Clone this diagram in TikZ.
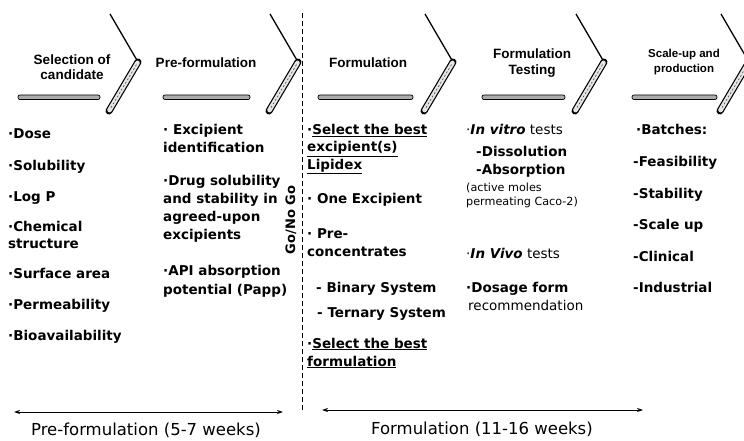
\documentclass[tikz,border=0pt]{standalone}
\usepackage{fontspec}
\setmainfont{DejaVu Sans}
\newfontfamily\headfont{Liberation Sans}
\usetikzlibrary{arrows.meta}
\begin{document}
\begin{tikzpicture}[x=1pt,y=-1pt,
  body/.style={anchor=base west, inner sep=0pt, font=\fontsize{13.5}{16}\selectfont\bfseries},
  bodyr/.style={anchor=base west, inner sep=0pt, font=\fontsize{13.5}{16}\selectfont},
  small/.style={anchor=base west, inner sep=0pt, font=\fontsize{11.2}{13}\selectfont},
  head/.style={align=center, inner sep=0pt, font=\headfont\fontsize{13.5}{15.5}\selectfont\bfseries},
  heads/.style={align=center, inner sep=0pt, font=\headfont\fontsize{11.5}{15.5}\selectfont\bfseries},
  foot/.style={anchor=base, inner sep=0pt, font=\fontsize{16.5}{18}\selectfont},
  bar/.style={draw=black, line width=0.7pt, fill=gray!65, rounded corners=2pt},
  chevline/.style={line width=1.3pt},
  span/.style={{Stealth[length=6pt,width=4pt]}-{Stealth[length=6pt,width=4pt]}, line width=0.9pt}
]
\useasboundingbox (0,0) rectangle (744,441);
\fill[white] (0,0) rectangle (744,441);

% chevrons
\newcommand\chevron[1]{%
  \coordinate (t) at (#1-28,14);
  \coordinate (v) at (#1,62);
  \coordinate (b) at (#1-29,111);
  \draw[chevline] (t) -- (v);
  \draw[line width=7pt, line cap=round] (v) -- (b);
  \draw[line width=4.6pt, gray!20, line cap=round, shorten <=1pt, shorten >=1pt] (v) -- (b);
  \draw[line width=0.6pt, gray!60!black, dash pattern=on 2pt off 2pt, shorten <=3pt, shorten >=3pt] (v) -- (b);
}
\chevron{138}
\chevron{298}
\chevron{453}
\chevron{604}
\chevron{749}

% bars
\draw[bar] (18,95) rectangle (100,99.5);
\draw[bar] (163,95) rectangle (250,99.5);
\draw[bar] (318,95) rectangle (413,99.5);
\draw[bar] (482,95) rectangle (565,99.5);
\draw[bar] (632,95) rectangle (717,99.5);

% headings
\node[head] (h1) at (72,67) {Selection of\\candidate};
\node[head] (h2) at (206,63) {Pre-formulation};
\node[head] (h3) at (368,63) {Formulation};
\node[head] (h4) at (532,63) {Formulation\\Testing};
\node[heads] (h5) at (684,62) {Scale-up and\\production};

% Go / No Go
\coordinate (dtop) at (302,13);
\coordinate (dbot) at (302,412);
\draw[line width=0.8pt, dash pattern=on 5pt off 3pt] (dtop) -- (dbot);
\node[rotate=90, inner sep=0pt, font=\fontsize{13}{15}\selectfont\bfseries] (gng) at (291,220) {Go/No Go};

% column 1
\node[body] (a1) at (8,139) {·Dose};
\node[body] (a2) at (8,170) {·Solubility};
\node[body] (a3) at (8,201) {·Log P};
\node[body] (a4) at (8,231) {·Chemical};
\node[body] (a5) at (8,248) {structure};
\node[body] (a6) at (8,278) {·Surface area};
\node[body] (a7) at (8,309) {·Permeability};
\node[body] (a8) at (8,340) {·Bioavailability};

% column 2
\node[body] (b1) at (163,135) {· Excipient};
\node[body] (b2) at (163,153) {identification};
\node[body] (b3) at (163,185) {·Drug solubility};
\node[body] (b4) at (163,203) {and stability in};
\node[body] (b5) at (163,221) {agreed-upon};
\node[body] (b6) at (163,239) {excipients};
\node[body] (b7) at (163,275) {·API absorption};
\node[body] (b8) at (163,294) {potential (Papp)};

% column 3
\node[body] (c1) at (307,135) {·\underline{Select the best}};
\node[body] (c2) at (307,152) {\underline{excipient(s)}};
\node[body] (c3) at (307,169) {\underline{Lipidex}};
\node[body] (c4) at (307,203) {· One Excipient};
\node[body] (c5) at (307,238) {· Pre-};
\node[body] (c6) at (307,256) {concentrates};
\node[body] (c7) at (316,292) {- Binary System};
\node[body] (c8) at (317,317) {- Ternary System};
\node[body] (c9) at (307,348) {·\underline{Select the best}};
\node[body] (c10) at (307,366) {\underline{formulation}};

% column 4
\node[bodyr] (d1) at (466,135) {·\textbf{\itshape In vitro} tests};
\node[body] (d2) at (476,157) {-Dissolution};
\node[body] (d3) at (476,175) {-Absorption};
\node[small] (d4) at (466,191) {(active moles};
\node[small] (d5) at (466,205) {permeating Caco-2)};
\node[bodyr] (d6) at (466,258) {·\textbf{\itshape In Vivo} tests};
\node[body] (d7) at (466,292) {·Dosage form};
\node[bodyr] (d8) at (468,310) {recommendation};

% column 5
\node[body] (e1) at (636,135) {·Batches:};
\node[body] (e2) at (633,166) {-Feasibility};
\node[body] (e3) at (633,198) {-Stability};
\node[body] (e4) at (633,229) {-Scale up};
\node[body] (e5) at (633,261) {-Clinical};
\node[body] (e6) at (633,292) {-Industrial};

% time spans
\coordinate (l1) at (14,412);
\coordinate (l2) at (283,412);
\coordinate (r1) at (322,410);
\coordinate (r2) at (643,410);
\draw[span] (l1) -- (l2);
\draw[span] (r1) -- (r2);
\node[foot] (f1) at (146,435) {Pre-formulation (5-7 weeks)};
\node[foot] (f2) at (482,434) {Formulation (11-16 weeks)};
\end{tikzpicture}
\end{document}
